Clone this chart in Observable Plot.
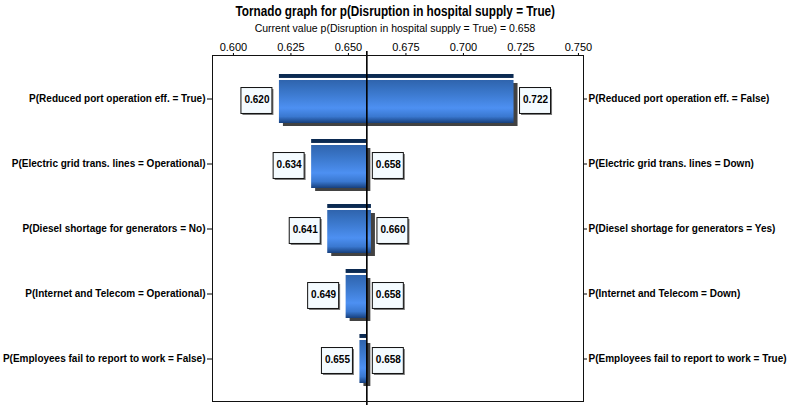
<!DOCTYPE html>
<html>
<head>
<meta charset="utf-8">
<script src="https://cdn.jsdelivr.net/npm/d3@7"></script>
<script src="https://cdn.jsdelivr.net/npm/@observablehq/plot@0.6"></script>
<style>
  body { margin: 0; background: #fff; width: 790px; height: 409px; overflow: hidden; }
  #title { position: absolute; left: 0; top: 3px; width: 790px; text-align: center; z-index: 2;
    font: bold 14px 'Liberation Sans', Arial, sans-serif; color: #000; line-height: 17px; }
  #title span { display: inline-block; transform: scaleX(0.84); transform-origin: center; }
  #subtitle { position: absolute; left: 0; top: 22px; width: 790px; text-align: center; z-index: 2;
    font: 10.5px 'Liberation Sans', Arial, sans-serif; color: #000; line-height: 12px; }
  #chart { position: absolute; left: 0; top: 31px; z-index: 1; }
</style>
</head>
<body>
<div id="title"><span>Tornado graph for p(Disruption in hospital supply = True)</span></div>
<div id="subtitle">Current value p(Disruption in hospital supply = True) = 0.658</div>
<div id="chart"></div>
<script>
const lowLabels = [
  "P(Reduced port operation eff. = True)",
  "P(Electric grid trans. lines = Operational)",
  "P(Diesel shortage for generators = No)",
  "P(Internet and Telecom = Operational)",
  "P(Employees fail to report to work = False)"
];
const highLabels = [
  "P(Reduced port operation eff. = False)",
  "P(Electric grid trans. lines = Down)",
  "P(Diesel shortage for generators = Yes)",
  "P(Internet and Telecom = Down)",
  "P(Employees fail to report to work = True)"
];
const lowValues = [0.620, 0.634, 0.641, 0.649, 0.655];
const highValues = [0.722, 0.658, 0.660, 0.658, 0.658];
const currentValue = 0.658;
const xTicks = [0.600, 0.625, 0.650, 0.675, 0.700, 0.725, 0.750];

const rows = lowLabels.map((lab, i) => ({lab, high: highLabels[i], low: lowValues[i], hi: highValues[i]}));

const W = 790, H = 378, mT = 24, mB = 8, mL = 212, mR = 207;
const yOpts = {type: "band", domain: lowLabels, range: [mT, H - mB], paddingInner: 0.25, paddingOuter: 0.27};
const bw = Plot.scale({y: yOpts}).bandwidth;
const boxH = 26, boxW = 31;
const boxInset = (bw - boxH) / 2 + 2;
const font = "'Liberation Sans', Arial, sans-serif";

const chart = Plot.plot({
  width: W, height: H,
  marginTop: mT, marginBottom: mB, marginLeft: mL, marginRight: mR,
  style: {fontFamily: font, fontSize: "10px", background: "transparent", color: "#000"},
  x: {domain: [0.5909, 0.7522]},
  y: yOpts,
  marks: [
    Plot.axisX({anchor: "top", ticks: xTicks, tickFormat: d3.format(".3f"), tickSize: 3, tickPadding: 2, fontSize: 11, label: null}),
    Plot.axisY({anchor: "left", tickSize: 5, tickPadding: 2, label: null, fontWeight: "bold"}),
    Plot.axisY({anchor: "right", tickSize: 3, tickPadding: 2, label: null, fontWeight: "bold",
      tickFormat: d => highLabels[lowLabels.indexOf(d)]}),
    // shadow
    Plot.barX(rows, {x1: "low", x2: "hi", y: "lab", insetTop: 6, dx: 4, dy: 3, fill: "#2e2e2e", fillOpacity: 0.9}),
    // body
    Plot.barX(rows, {x1: "low", x2: "hi", y: "lab", insetTop: 6, fill: "url(#barGrad)"}),
    // top strip
    Plot.barX(rows, {x1: "low", x2: "hi", y: "lab", insetTop: 0, insetBottom: bw - 4, fill: "#0b2a52"}),
    // value boxes
    Plot.barX(rows, {x1: "low", x2: "low", y: "lab", insetLeft: -(7 + boxW), insetRight: 7, insetTop: boxInset, insetBottom: boxInset - 4, dx: 1.5, dy: 1.5, fill: "#777"}),
    Plot.barX(rows, {x1: "low", x2: "low", y: "lab", insetLeft: -(7 + boxW), insetRight: 7, insetTop: boxInset, insetBottom: boxInset - 4, fill: "#f4fbff", stroke: "#111", strokeWidth: 1}),
    Plot.barX(rows, {x1: "hi", x2: "hi", y: "lab", insetLeft: 6, insetRight: -(6 + boxW), insetTop: boxInset, insetBottom: boxInset - 4, dx: 1.5, dy: 1.5, fill: "#777"}),
    Plot.barX(rows, {x1: "hi", x2: "hi", y: "lab", insetLeft: 6, insetRight: -(6 + boxW), insetTop: boxInset, insetBottom: boxInset - 4, fill: "#f4fbff", stroke: "#111", strokeWidth: 1}),
    Plot.text(rows, {x: "low", y: "lab", text: d => d.low.toFixed(3), dx: -(7 + boxW / 2), dy: 1, fontWeight: "bold", fontSize: 10, fill: "#000"}),
    Plot.text(rows, {x: "hi", y: "lab", text: d => d.hi.toFixed(3), dx: 6 + boxW / 2, dy: 1, fontWeight: "bold", fontSize: 10, fill: "#000"}),
    Plot.ruleX([currentValue], {stroke: "#000", strokeWidth: 1.6, insetTop: -4, insetBottom: -4}),
    Plot.frame({stroke: "#111", strokeWidth: 1})
  ]
});

const defs = d3.select(chart).insert("defs", ":first-child");
const g = defs.append("linearGradient").attr("id", "barGrad").attr("x1", 0).attr("y1", 0).attr("x2", 0).attr("y2", 1);
[["0%", "#2f64ad"], ["30%", "#3b78cc"], ["65%", "#4d90f2"], ["85%", "#3a78d0"], ["100%", "#163f7c"]]
  .forEach(([o, c]) => g.append("stop").attr("offset", o).attr("stop-color", c));

document.getElementById("chart").appendChild(chart);
</script>
</body>
</html>
